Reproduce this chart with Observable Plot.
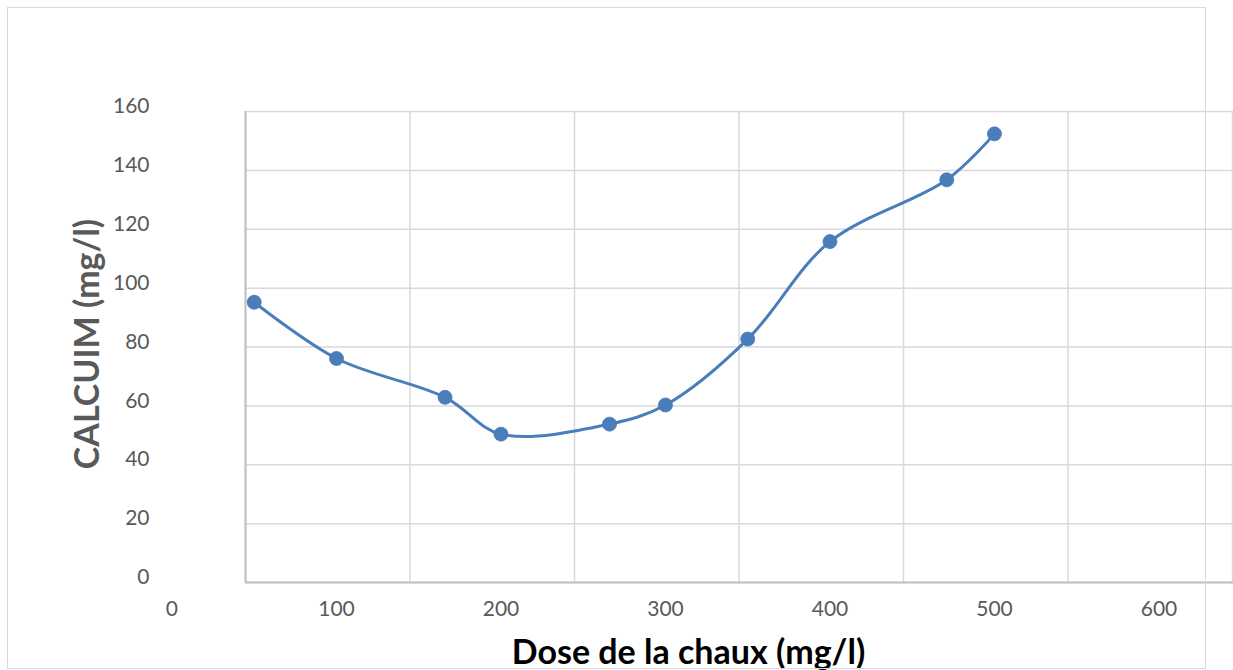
<!DOCTYPE html>
<html>
<head>
<meta charset="utf-8">
<script src="https://cdn.jsdelivr.net/npm/d3@7"></script>
<script src="https://cdn.jsdelivr.net/npm/@observablehq/plot@0.6"></script>
<style>
  html, body { margin: 0; padding: 0; background: #fff; }
  #wrap { position: relative; width: 1233px; height: 670px; overflow: hidden; }
  #border { position: absolute; left: 7px; top: 7px; width: 1197px; height: 660px;
            border: 1.5px solid #d9d9d9; pointer-events: none; }
</style>
</head>
<body>
<div id="wrap"><div id="border"></div></div>
<script>
// Data
const doses   = [50, 100, 166, 200, 266, 300, 350, 400, 471, 500];        // Dose de la chaux (mg/l)
const calcium = [95.2, 76.1, 62.9, 50.4, 53.8, 60.3, 82.7, 115.8, 136.8, 152.4]; // CALCUIM (mg/l)

const xTickLabels = [0, 100, 200, 300, 400, 500, 600];
const yTickLabels = [0, 20, 40, 60, 80, 100, 120, 140, 160];
const xGridLines  = [44.7, 144.7, 244.7, 344.7, 444.7, 544.7, 644.7];
const xDomain = [44.7, 645.3];
const yDomain = [0, 160];

const xTitle = "Dose de la chaux (mg/l)";
const yTitle = "CALCUIM (mg/l)";

const points = doses.map((d, i) => ({dose: d, ca: calcium[i]}));

const blue = "#4A7EBB";
const gray = "#595959";

const chart = Plot.plot({
  width: 1233,
  height: 670,
  marginLeft: 245,
  marginRight: 0,
  marginTop: 111,
  marginBottom: 88,
  style: {fontFamily: "Lato, 'Open Sans', sans-serif", background: "transparent"},
  x: {domain: xDomain, axis: null},
  y: {domain: yDomain, axis: null},
  marks: [
    Plot.ruleY(yTickLabels, {stroke: "#d9d9d9", strokeWidth: 1.5}),
    Plot.ruleX(xGridLines, {stroke: "#d9d9d9", strokeWidth: 1.5}),
    Plot.ruleX([xDomain[0]], {stroke: "#bfbfbf", strokeWidth: 2}),
    Plot.ruleY([yDomain[0]], {stroke: "#bfbfbf", strokeWidth: 2}),
    Plot.axisY(yTickLabels, {tickSize: 0, tickPadding: 96, dy: -5, fontSize: 21, fill: gray, label: null}),
    Plot.text(xTickLabels, {x: d => d, frameAnchor: "bottom", lineAnchor: "middle", dy: 27, fontSize: 21, fill: gray}),
    Plot.line(points, {x: "dose", y: "ca", stroke: blue, strokeWidth: 3, curve: "catmull-rom"}),
    Plot.dot(points, {x: "dose", y: "ca", r: 7, fill: blue, stroke: "#4677b4", strokeWidth: 0.8}),
    Plot.text([xTitle], {frameAnchor: "bottom", lineAnchor: "middle", textAnchor: "middle", dx: -51, dy: 71, fontSize: 34, fontWeight: "bold", fill: "#000"}),
    Plot.text([yTitle], {frameAnchor: "left", lineAnchor: "middle", textAnchor: "middle", rotate: -90, dx: -157, dy: -3, fontSize: 34, fontWeight: "bold", fill: gray})
  ]
});
document.getElementById("wrap").insertBefore(chart, document.getElementById("border"));
</script>
</body>
</html>
